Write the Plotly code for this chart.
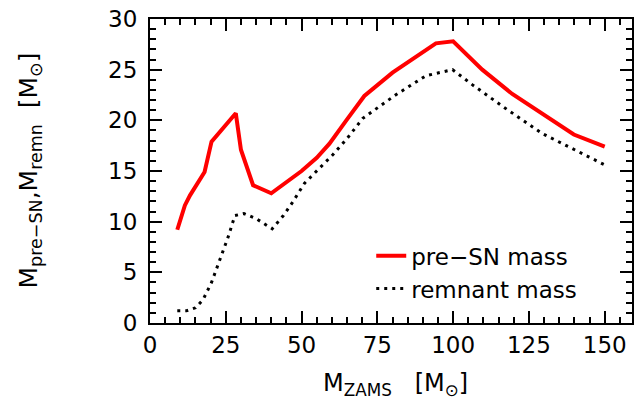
import plotly.graph_objects as go

m_zams_pre = [9, 11.5, 13.2, 15, 18, 20.3, 24, 28.3, 30, 32, 34, 40, 46, 50, 55, 59.2, 65, 70.7, 80, 90, 94.3, 100, 109.6, 119.5, 129.4, 139.8, 150]
m_pre_sn = [9.2, 11.6, 12.6, 13.5, 14.9, 17.9, 19.2, 20.7, 17.1, 15.2, 13.6, 12.8, 14.1, 15.0, 16.3, 17.7, 20.1, 22.4, 24.7, 26.8, 27.6, 27.8, 25.0, 22.6, 20.6, 18.6, 17.4]

m_zams_rem = [9, 12, 15, 17.5, 20.3, 23, 25.8, 28, 31, 35, 40.3, 44, 47, 51, 55, 60.3, 65, 70.2, 81, 91, 99.8, 106.4, 116.2, 129.4, 144.7, 150]
m_remnant = [1.2, 1.2, 1.5, 2.3, 4.0, 6.2, 8.5, 10.6, 10.8, 10.3, 9.3, 10.6, 11.9, 13.8, 15.0, 16.6, 18.2, 20.2, 22.5, 24.4, 25.0, 23.5, 21.4, 18.7, 16.4, 15.6]

FONT = "DejaVu Sans"

fig = go.Figure()
fig.add_trace(go.Scatter(x=m_zams_pre, y=m_pre_sn, mode="lines", name="pre−SN mass",
                         line=dict(color="#ff0000", width=4)))
fig.add_trace(go.Scatter(x=m_zams_rem, y=m_remnant, mode="lines", name="remnant mass",
                         line=dict(color="black", width=3, dash="3px,5px")))

axis_common = dict(
    showgrid=False, zeroline=False, showline=True, linecolor="black", linewidth=2,
    mirror="allticks", ticks="inside", ticklen=12, tickwidth=2, tickcolor="black",
    tickfont=dict(family=FONT, size=23, color="black"),
)

fig.update_xaxes(range=[0, 159], tick0=0, dtick=25,
                 minor=dict(dtick=5, ticks="inside", ticklen=6, tickwidth=2, tickcolor="black"),
                 **axis_common)
fig.update_yaxes(range=[0, 30], tick0=0, dtick=5, ticklabelstandoff=6,
                 minor=dict(dtick=1, ticks="inside", ticklen=6, tickwidth=2, tickcolor="black"),
                 **axis_common)

fig.update_layout(
    width=637, height=405,
    margin=dict(l=150, r=3, t=19, b=82),
    plot_bgcolor="white", paper_bgcolor="white",
    font=dict(family=FONT, color="black"),
    showlegend=True,
    legend=dict(x=0.459, y=0.292, xanchor="left", yanchor="top",
                bgcolor="rgba(0,0,0,0)", tracegroupgap=0, traceorder="normal",
                font=dict(family=FONT, size=23, color="black")),
    annotations=[
        dict(text="M<sub>ZAMS</sub>&nbsp;&nbsp;&nbsp;[M<sub>⊙</sub>]", xref="paper", yref="paper",
             x=0.51, y=-0.145, xanchor="center", yanchor="top", showarrow=False,
             font=dict(family=FONT, size=24, color="black")),
        dict(text="M<sub>pre−SN</sub>,M<sub>remn</sub>&nbsp;&nbsp;[M<sub>⊙</sub>]", xref="paper", yref="paper",
             x=-0.25, y=0.5, xanchor="center", yanchor="middle", showarrow=False,
             textangle=-90, font=dict(family=FONT, size=25, color="black")),
    ],
)

fig.write_html("out.html", config={"displayModeBar": False},
               post_script="document.body.style.margin='0';document.body.style.overflow='hidden';")
